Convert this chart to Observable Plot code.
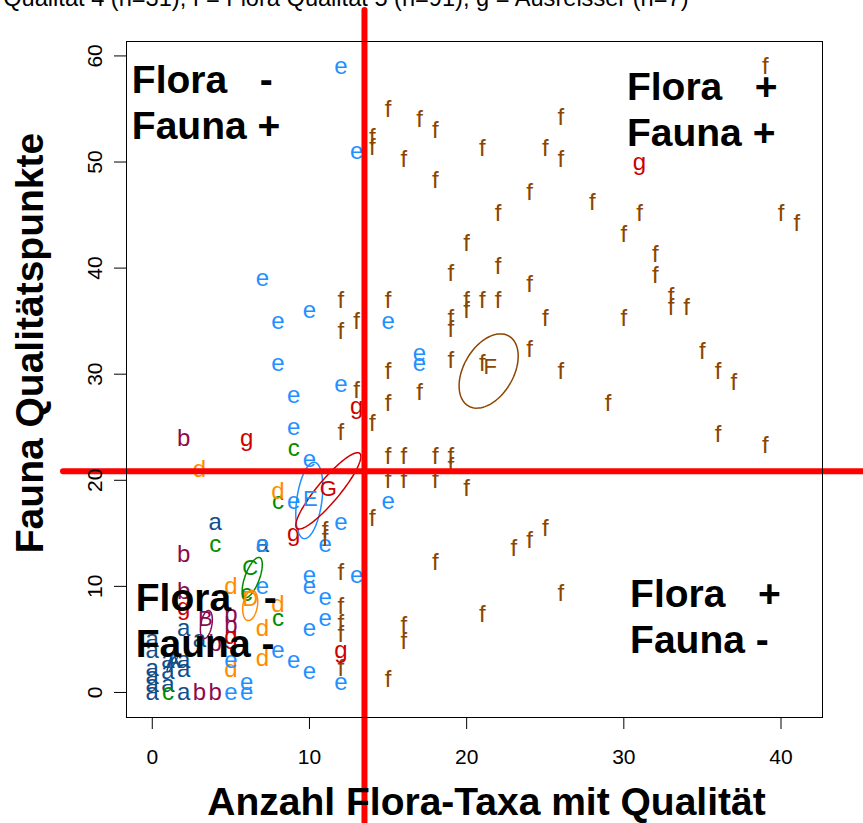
<!DOCTYPE html>
<html><head><meta charset="utf-8">
<script src="https://cdn.jsdelivr.net/npm/d3@7"></script>
<script src="https://cdn.jsdelivr.net/npm/@observablehq/plot@0.6"></script>
<style>
html,body{margin:0;padding:0;background:#fff;overflow:hidden;}
#chart svg{display:block;}
</style></head><body><div id="chart"></div>
<script>
// ---- data ----
const groups = ["a","b","c","d","e","f","g"];
const groupColors = ["#104E8B","#8B0A50","#008B00","#FF8C00","#1E90FF","#8B4500","#CD0000"];

const pointsA = [[0,0],[0,0.8],[0,1.5],[0,2.3],[0,4],[0,5],[1,0.8],[1,2],[1,3],[2,3],[2,2.2],[2,0],[2,6],[3,5],[4,16],[7,14]];
const pointsB = [[2,24],[2,13],[2,9.5],[5,7.4],[5,6.3],[4,4.6],[3,0],[4,0]];
const pointsC = [[9,23],[8,18],[4,14],[6,9.3],[8,7],[1,0]];
const pointsD = [[3,21],[8,19],[5,10],[8,8.3],[7,6],[7,3.2],[5,2.2]];
const pointsE = [[12,59],[13,51],[7,39],[10,36],[8,35],[15,35],[17,32],[17,31],[8,31],[12,29],[9,28],[9,25],[10,22],[9,18],[15,18],[12,16],[11,14],[7,14],[13,11],[10,11],[10,10],[7,10],[11,9],[11,7],[10,6],[8,4],[9,3],[10,2],[12,1],[5,3],[6,1],[5,0],[6,0]];
const pointsF = [[39,59],[15,55],[17,54],[18,53],[14,52.3],[14,51.4],[16,50.3],[21,51.3],[18,48.3],[26,54.2],[25,51.3],[26,50.3],[24,47.1],[28,46.2],[22,45.2],[20,42.3],[22,40.2],[19,39.5],[24,38.5],[31,45.2],[30,43.2],[40,45.2],[41,44.2],[32,41.3],[32,39.3],[33,37.3],[33,36.3],[34,36.3],[30,35.3],[35,32.2],[36,30.3],[37,29.2],[29,27.3],[36,24.3],[39,23.3],
  [12,37],[13,35],[12,34],[15,37],[20,37],[20,36],[21,37],[22,37],[19,35.3],[19,34.2],[25,35.3],[24,32.3],[19,31.3],[21,31],[26,30.3],[15,30.3],[17,28.3],[15,27.3],[13,28.5],[14,25.4],[12,24.5],
  [15,22.3],[16,22.3],[18,22.3],[19,22.3],[19,21.3],[15,20],[16,20],[18,20],[20,19.2],
  [14,16.4],[11,15.3],[11,14.5],[18,12.3],[23,13.6],[24,14.3],[25,15.5],[26,9.3],[21,7.4],
  [12,11.3],[12,8.1],[12,6.5],[12,5.5],[12,2.3],[15,1.2],[16,6.3],[16,4.8]];
const pointsG = [[31,50],[13,27],[6,24],[9,15],[12,4],[2,8],[5,5.3]];

const centroidText = ["A","B","C","D","E","F","G"];
const centroidX = [1.33, 3.37, 6.23, 6.23, 10.05, 21.5, 11.2];
const centroidY = [3.0, 6.97, 11.7, 8.86, 18.28, 30.7, 19.2];

const ellipseCX = [1.27, 3.44, 6.36, 6.23, 9.99, 21.4, 11.2];
const ellipseCY = [2.74, 6.4, 10.83, 8.2, 18.1, 30.3, 19.0];
const ellipseRX = [0.33, 0.38, 0.64, 0.48, 0.86, 1.88, 2.07];
const ellipseRY = [0.8, 1.32, 1.9, 1.42, 3.6, 3.5, 3.6];
const ellipseRho = [0.9, 0.35, 0.65, 0.25, 0.35, 0.4, 0.9];

const floraThreshold = 13.5;
const faunaThreshold = 20.85;

const xTicks = [0,10,20,30,40];
const yTicks = [0,10,20,30,40,50,60];

const quadrantText = ["Flora   -\nFauna +", "Flora   +\nFauna +", "Flora   -\nFauna -", "Flora   +\nFauna -"];
const quadrantX = [-1.3, 30.2, -1.05, 30.4];
const quadrantY = [52.2, 51.5, 3.3, 3.7];

const xTitle = "Anzahl Flora-Taxa mit Qualität";
const yTitle = "Fauna Qualitätspunkte";
const topTitle = "Qualität 4 (n=31), f = Flora Qualität 5 (n=91), g = Ausreisser (n=7)";

// ---- tables built from the arrays ----
const allPoints = [pointsA,pointsB,pointsC,pointsD,pointsE,pointsF,pointsG];
const pointRows = allPoints.flatMap((pts,i) => pts.map(([x,y]) => ({x, y, g: groups[i]})));
const centroidRows = centroidText.map((t,i) => ({t, x: centroidX[i], y: centroidY[i], g: groups[i]}));
const ellipseRows = groups.flatMap((g,i) => d3.range(0, 101).map(k => {
  const t = 2*Math.PI*k/100;
  const r = ellipseRho[i];
  return {g, x: ellipseCX[i] + ellipseRX[i]*Math.cos(t),
          y: ellipseCY[i] + ellipseRY[i]*(r*Math.cos(t) + Math.sqrt(1-r*r)*Math.sin(t))};
}));
const quadRows = quadrantText.map((t,i) => ({t, x: quadrantX[i], y: quadrantY[i]}));

const font = "'Liberation Sans', Arial, Helvetica, sans-serif";

const chart = Plot.plot({
  width: 863, height: 823,
  marginLeft: 126, marginRight: 41, marginTop: 41, marginBottom: 106,
  x: {domain: [-1.64, 42.64]},
  y: {domain: [-2.36, 61.36]},
  color: {domain: groups, range: groupColors},
  style: {fontFamily: font, background: "#fff", color: "#000"},
  marks: [
    Plot.text(pointRows, {x: "x", y: "y", text: "g", fill: "g", fontSize: 24}),
    Plot.line(ellipseRows, {x: "x", y: "y", z: "g", stroke: "g", strokeWidth: 1.5}),
    Plot.text(centroidRows, {x: "x", y: "y", text: "t", fill: "g", fontSize: 22}),
    Plot.ruleX([floraThreshold], {stroke: "#FF0000", strokeWidth: 6, insetTop: -31, insetBottom: -106, strokeLinecap: "round"}),
    Plot.ruleY([faunaThreshold], {stroke: "#FF0000", strokeWidth: 6, insetLeft: -63, insetRight: -41, strokeLinecap: "round"}),
    Plot.frame({stroke: "#000", strokeWidth: 1}),
    Plot.axisX(xTicks, {tickSize: 12, tickPadding: 20, fontSize: 21, label: null}),
    Plot.axisY(yTicks, {tickSize: 12, tickPadding: 13, tickRotate: -90, fontSize: 21, label: null}),
    Plot.text(quadRows, {x: "x", y: "y", text: "t", textAnchor: "start", lineAnchor: "bottom", lineHeight: 1.18, fontSize: 39, fontWeight: "bold", fill: "#000"}),
    Plot.text([xTitle], {frameAnchor: "bottom", textAnchor: "middle", dx: 12, dy: 97, lineAnchor: "bottom", fontSize: 39, fontWeight: "bold", fill: "#000"}),
    Plot.text([yTitle], {frameAnchor: "left", textAnchor: "middle", rotate: -90, dx: -84, dy: -36.5, lineAnchor: "bottom", fontSize: 39, fontWeight: "bold", fill: "#000"}),
    Plot.text([topTitle], {frameAnchor: "top-right", dx: -134, dy: -35.5, textAnchor: "end", lineAnchor: "bottom", fontSize: 23.6, fill: "#000"})
  ]
});
document.getElementById("chart").appendChild(chart);
</script>
</body></html>
